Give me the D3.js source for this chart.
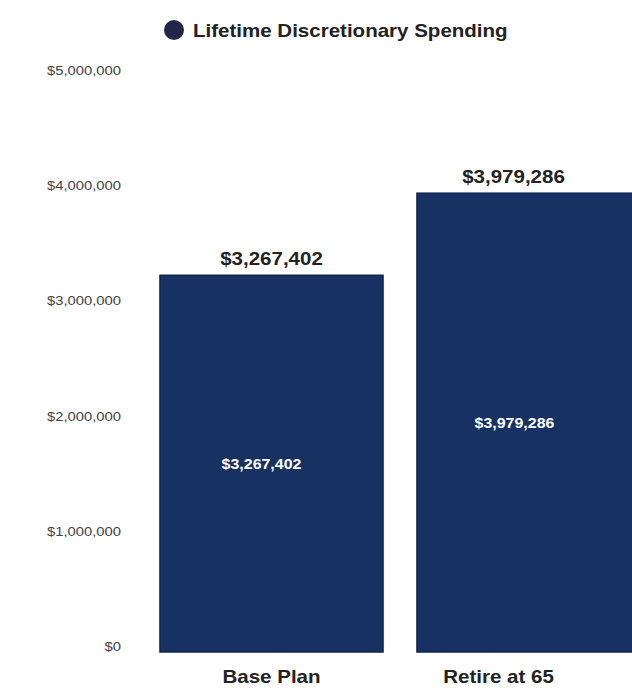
<!DOCTYPE html>
<html>
<head>
<meta charset="utf-8">
<script src="https://cdn.jsdelivr.net/npm/d3@7"></script>
<style>
  html, body { margin: 0; padding: 0; background: #ffffff; }
  svg { display: block; font-family: "Liberation Sans", Arial, Helvetica, sans-serif; }
</style>
</head>
<body>
<svg id="chart" width="632" height="688"></svg>
<script>
// Scenario names and lifetime discretionary spending per scenario
const categories = ["Base Plan", "Retire at 65"];
const spending = [3267402, 3979286];
const seriesName = "Lifetime Discretionary Spending";
const yTicks = [0, 1000000, 2000000, 3000000, 4000000, 5000000];

const W = 632, H = 688;
const STRETCH = 1.14; // wide lettering
const svg = d3.select("#chart");

const x = d3.scaleBand()
  .domain(categories)
  .range([143, 657])
  .paddingInner(0.132)
  .paddingOuter(0.066);

const y = d3.scaleLinear()
  .domain([0, 5000000])
  .range([652, 75.5]);

const money = v => "$" + d3.format(",")(v);
const data = categories.map((c, i) => ({ cat: c, value: spending[i] }));

// centre of the part of a bar that lies inside the drawing
const visCenter = d => {
  const x0 = x(d.cat), x1 = Math.min(x0 + x.bandwidth(), W);
  return (x0 + x1) / 2;
};
const clipped = d => x(d.cat) + x.bandwidth() > W;
const place = (px, py) => `translate(${px},${py}) scale(${STRETCH},1)`;

// legend
const legend = svg.append("g");
legend.append("circle").attr("cx", 174).attr("cy", 30).attr("r", 10).attr("fill", "#23264a");
legend.append("text").attr("transform", place(193, 37))
  .attr("font-size", 18).attr("font-weight", "bold").attr("fill", "#222")
  .text(seriesName);

// y axis labels only
const yAxis = d3.axisLeft(y).tickValues(yTicks).tickFormat(money).tickSize(0).tickPadding(0);
const ya = svg.append("g").attr("transform", "translate(121,0)").call(yAxis);
ya.select(".domain").remove();
ya.selectAll("text")
  .attr("x", 0)
  .attr("transform", `scale(${STRETCH},1)`)
  .attr("font-family", "\"Liberation Sans\", Arial, sans-serif")
  .attr("font-size", 13).attr("fill", "#444").attr("dy", "-0.1em");

// bars
svg.append("g").selectAll("rect").data(data).join("rect")
  .attr("x", d => x(d.cat))
  .attr("y", d => y(d.value))
  .attr("width", x.bandwidth())
  .attr("height", d => y(0) - y(d.value))
  .attr("fill", "#173163")
  .attr("stroke", "#0f2550")
  .attr("stroke-width", 1.5);

// value above each bar
svg.append("g").selectAll("text").data(data).join("text")
  .attr("transform", d => place(visCenter(d) - (clipped(d) ? 11 : 0), y(d.value) - 10))
  .attr("text-anchor", "middle")
  .attr("font-size", 18).attr("font-weight", "bold").attr("fill", "#222")
  .text(d => money(d.value));

// value inside each bar
svg.append("g").selectAll("text").data(data).join("text")
  .attr("transform", d => place(visCenter(d) - 10, (y(d.value) + y(0)) / 2))
  .attr("dy", "0.35em")
  .attr("text-anchor", "middle")
  .attr("font-size", 14).attr("font-weight", "bold").attr("fill", "#ffffff")
  .text(d => money(d.value));

// category labels
svg.append("g").selectAll("text").data(data).join("text")
  .attr("transform", d => place(visCenter(d) - (clipped(d) ? 26 : 0), 683))
  .attr("text-anchor", "middle")
  .attr("font-size", 18).attr("font-weight", "bold").attr("fill", "#222")
  .text(d => d.cat);
</script>
</body>
</html>
